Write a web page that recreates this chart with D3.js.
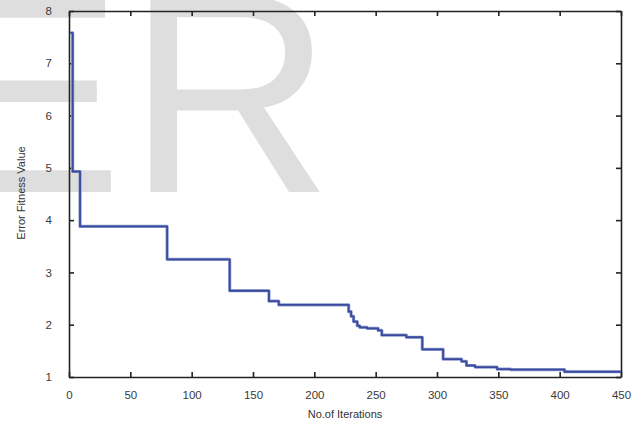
<!DOCTYPE html>
<html>
<head>
<meta charset="utf-8">
<script src="https://cdn.jsdelivr.net/npm/d3@7"></script>
<style>
  body { margin: 0; background: #fff; }
  text { font-family: "Liberation Sans", Arial, sans-serif; }
</style>
</head>
<body>
<div id="chart"></div>
<script>
// Data: step changes of the best error value (iteration where the value starts)
var iterations = [1, 3, 9, 80, 131, 163, 171, 228, 230, 232, 235, 237, 243, 252, 255,
                  275, 288, 305, 320, 324, 331, 349, 360, 404, 450];
var errorValues = [7.58, 4.93, 3.88, 3.25, 2.65, 2.45, 2.38, 2.25, 2.16, 2.06, 1.98, 1.95, 1.93, 1.89, 1.80,
                   1.76, 1.53, 1.34, 1.30, 1.22, 1.19, 1.15, 1.14, 1.10, 1.10];
var xTicks = [0, 50, 100, 150, 200, 250, 300, 350, 400, 450];
var yTicks = [1, 2, 3, 4, 5, 6, 7, 8];

var svgWidth = 639;
var svgHeight = 425;

var chartMargin = { top: 11, right: 18, bottom: 48, left: 69 };
var chartWidth = svgWidth - chartMargin.left - chartMargin.right;
var chartHeight = svgHeight - chartMargin.top - chartMargin.bottom;

var svg = d3.select("#chart")
  .append("svg")
  .attr("width", svgWidth)
  .attr("height", svgHeight);

// Watermark behind the chart
svg.append("text")
  .text("ER")
  .attr("x", -67)
  .attr("y", 192)
  .attr("font-size", 285)
  .attr("letter-spacing", 4)
  .attr("fill", "#dedede");

var chartGroup = svg.append("g")
  .attr("transform", `translate(${chartMargin.left}, ${chartMargin.top})`);

var xScale = d3.scaleLinear().domain([0, 450]).range([0, chartWidth]);
var yScale = d3.scaleLinear().domain([1, 8]).range([chartHeight, 0]);

// Axes with inward ticks on all four sides
function styleAxis(g) {
  g.select(".domain").attr("stroke", "#222").attr("stroke-width", 1.6);
  g.selectAll(".tick line").attr("stroke", "#222").attr("stroke-width", 1.6);
  g.selectAll(".tick text").attr("fill", "#3a3a3a").attr("font-size", 11.5)
    .attr("font-family", "Liberation Sans, Arial, sans-serif");
}

chartGroup.append("g")
  .attr("transform", `translate(0, ${chartHeight})`)
  .call(d3.axisBottom(xScale).tickValues(xTicks).tickSizeInner(-5).tickSizeOuter(0).tickPadding(14)
    .tickFormat(d3.format("d")))
  .call(styleAxis);

chartGroup.append("g")
  .call(d3.axisTop(xScale).tickValues(xTicks).tickSizeInner(-5).tickSizeOuter(0).tickFormat(""))
  .call(styleAxis);

chartGroup.append("g")
  .call(d3.axisLeft(yScale).tickValues(yTicks).tickSizeInner(-5).tickSizeOuter(0).tickPadding(17)
    .tickFormat(d3.format("d")))
  .call(styleAxis);

chartGroup.append("g")
  .attr("transform", `translate(${chartWidth}, 0)`)
  .call(d3.axisRight(yScale).tickValues(yTicks).tickSizeInner(-5).tickSizeOuter(0).tickFormat(""))
  .call(styleAxis);

// Step line
var points = iterations.map((d, i) => [d, errorValues[i]]);
var line = d3.line()
  .x(d => xScale(d[0]))
  .y(d => yScale(d[1]))
  .curve(d3.curveStepAfter);

chartGroup.append("path")
  .datum(points)
  .attr("d", line)
  .attr("fill", "none")
  .attr("stroke", "#8f9bd0")
  .attr("stroke-width", 3.2)
  .attr("stroke-linejoin", "round");

chartGroup.append("path")
  .datum(points)
  .attr("d", line)
  .attr("fill", "none")
  .attr("stroke", "#3a4a9c")
  .attr("stroke-width", 1.8)
  .attr("stroke-linejoin", "round");

// Axis labels
chartGroup.append("text")
  .text("No.of Iterations")
  .attr("x", chartWidth / 2)
  .attr("y", chartHeight + 41)
  .attr("text-anchor", "middle")
  .attr("font-size", 11)
  .attr("fill", "#333");

chartGroup.append("text")
  .text("Error Fitness Value")
  .attr("transform", "rotate(-90)")
  .attr("x", -chartHeight / 2 + 1)
  .attr("y", -44)
  .attr("text-anchor", "middle")
  .attr("font-size", 11)
  .attr("fill", "#333");
</script>
</body>
</html>
